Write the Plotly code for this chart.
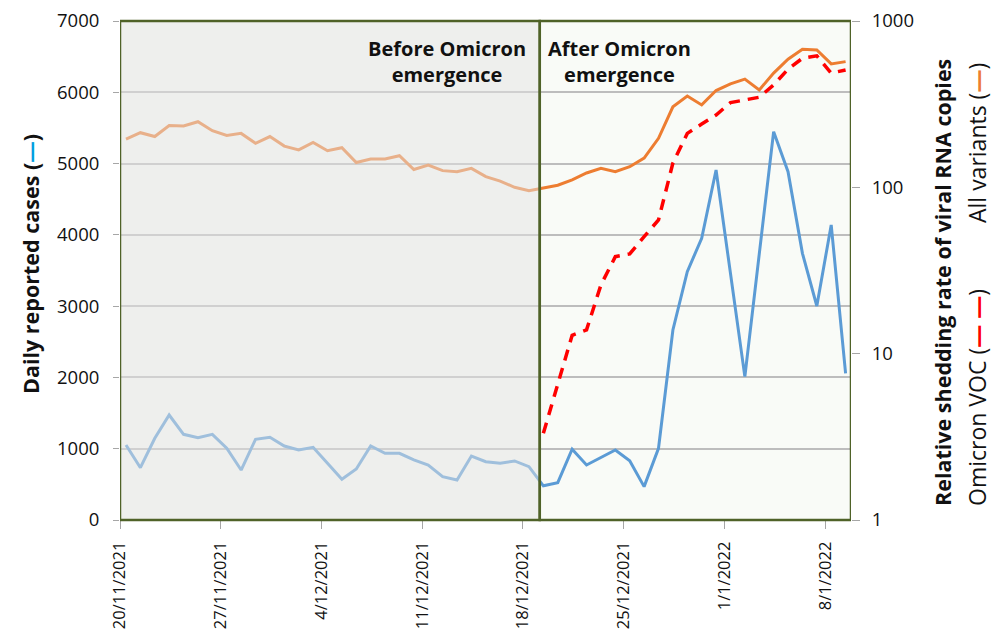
import pandas as pd
import plotly.graph_objects as go

# ---- data ----
start_date = "2021-11-20"
n_days = 51
daily_cases = [1052, 734, 1146, 1473, 1202, 1155, 1202, 1006, 701, 1132,
               1160, 1038, 982, 1020, 795, 571, 716, 1038, 935, 935,
               842, 772, 608, 561, 898, 818, 795, 828, 748,
               480, 524, 992, 772, 880, 982, 832, 468, 1006, 2666,
               3484, 3952, 4910, 3460, 2011, 3730, 5448, 4887, 3741, 3002,
               4139, 2058]
all_variants = [195, 213, 202, 235, 234, 248, 219, 205, 211, 184,
                202, 177, 168, 186, 166, 173, 141, 148, 148, 155,
                128, 136, 126, 124, 130, 116, 109, 100, 95.5,
                99, 103, 111, 122, 130, 124, 133, 150, 197, 305,
                354, 313, 382, 419, 447, 385, 486, 589, 676, 670,
                552, 570]
omicron_voc = [None] * 29 + [3.32, 6.5, 12.9, 13.9, 25.9, 38.3, 39.8, 50.5, 63.7, 140,
                             211, 240, 272, 323, 335, 348, 413, 513, 597, 617,
                             486, 508]
tick_dates = ["2021-11-20", "2021-11-27", "2021-12-04", "2021-12-11",
              "2021-12-18", "2021-12-25", "2022-01-01", "2022-01-08"]
tick_labels = ["20/11/2021", "27/11/2021", "4/12/2021", "11/12/2021",
               "18/12/2021", "25/12/2021", "1/1/2022", "8/1/2022"]
left_ticks = [0, 1000, 2000, 3000, 4000, 5000, 6000, 7000]
right_ticks = [1, 10, 100, 1000]
emergence_date = "2021-12-19 04:00"

dates = pd.date_range(start_date, periods=n_days, freq="D") + pd.Timedelta(hours=10)

FONT = "Open Sans"
GREEN = "#4f6228"

fig = go.Figure()
fig.add_trace(go.Scatter(x=dates, y=daily_cases, mode="lines",
                         line=dict(color="#5b9bd5", width=3), yaxis="y"))
fig.add_trace(go.Scatter(x=dates, y=all_variants, mode="lines",
                         line=dict(color="#ed7d31", width=3), yaxis="y2"))
fig.add_trace(go.Scatter(x=dates, y=omicron_voc, mode="lines",
                         line=dict(color="#ff0000", width=3.5, dash="11px,8px"),
                         yaxis="y2"))

x_end = "2022-01-09 19:00"

shapes = [
    # faded overlay for "before" region
    dict(type="rect", xref="x", yref="paper", x0=start_date, x1=emergence_date,
         y0=0, y1=1, fillcolor="rgba(228,228,228,0.5)", line=dict(width=0),
         layer="above"),
    dict(type="rect", xref="x", yref="paper", x0=start_date, x1=emergence_date,
         y0=0, y1=1, fillcolor="rgba(0,0,0,0)", line=dict(color=GREEN, width=2.5),
         layer="above"),
    dict(type="rect", xref="x", yref="paper", x0=emergence_date, x1=x_end,
         y0=0, y1=1, fillcolor="rgba(0,0,0,0)", line=dict(color=GREEN, width=2.5),
         layer="above"),
]

L, R, T, B = 120, 851, 21, 520
W, H = R - L, B - T


def px(xp):
    return (xp - L) / W


def py(yp):
    return (B - yp) / H


def ann(text, x, y, size, angle=0):
    return dict(text=text, x=px(x), y=py(y), xref="paper", yref="paper",
                xanchor="center", yanchor="middle", showarrow=False,
                textangle=angle, font=dict(family=FONT, size=size, color="#111111"))


annotations = [
    ann("<b>Before Omicron<br>emergence</b>", 447, 62, 20),
    ann("<b>After Omicron<br>emergence</b>", 619, 62, 20),
    ann("<b>Daily reported cases (<span style='color:#00a0e0'>—</span>)</b>", 30, 264, 21.5, -90),
    ann("<b>Relative shedding rate of viral RNA copies</b>", 942, 283, 21.5, -90),
    ann("Omicron VOC (<span style='color:#ff0000'><b>— —</b></span>)", 977, 397, 23, -90),
    ann("All variants (<span style='color:#ed7d31'><b>—</b></span>)", 977, 143, 23, -90),
]

fig.update_layout(
    width=995, height=632,
    margin=dict(l=L, r=995 - R, t=T, b=632 - B, autoexpand=False),
    paper_bgcolor="white",
    plot_bgcolor="#f9fbf7",
    showlegend=False,
    shapes=shapes,
    annotations=annotations,
    font=dict(family=FONT, size=18, color="#111111"),
    xaxis=dict(type="date", range=[start_date, x_end], automargin=False,
               tickvals=tick_dates, ticktext=tick_labels, tickangle=-90,
               ticks="outside", ticklen=8, tickcolor="#a6a6a6",
               ticklabelstandoff=6,
               tickfont=dict(family=FONT, size=16.5, color="#111111"),
               showgrid=False, zeroline=False, showline=False),
    yaxis=dict(range=[0, 7000], tickvals=left_ticks, automargin=False,
               ticks="outside", ticklen=6, tickcolor="#a6a6a6",
               ticklabelstandoff=10,
               tickfont=dict(family=FONT, size=18.5, color="#111111"),
               showgrid=True, gridcolor="#bdbdbd", gridwidth=1.5,
               zeroline=False, showline=False),
    yaxis2=dict(type="log", range=[0, 3], tickvals=right_ticks, automargin=False,
                ticktext=[str(v) for v in right_ticks],
                overlaying="y", side="right",
                ticks="outside", ticklen=8, tickcolor="#a6a6a6",
                ticklabelstandoff=8,
                tickfont=dict(family=FONT, size=18.5, color="#111111"),
                showgrid=False, zeroline=False, showline=False),
)

fig.write_html("out.html", config={"displayModeBar": False},
               post_script="document.body.style.margin='0';document.body.style.overflow='hidden';")
